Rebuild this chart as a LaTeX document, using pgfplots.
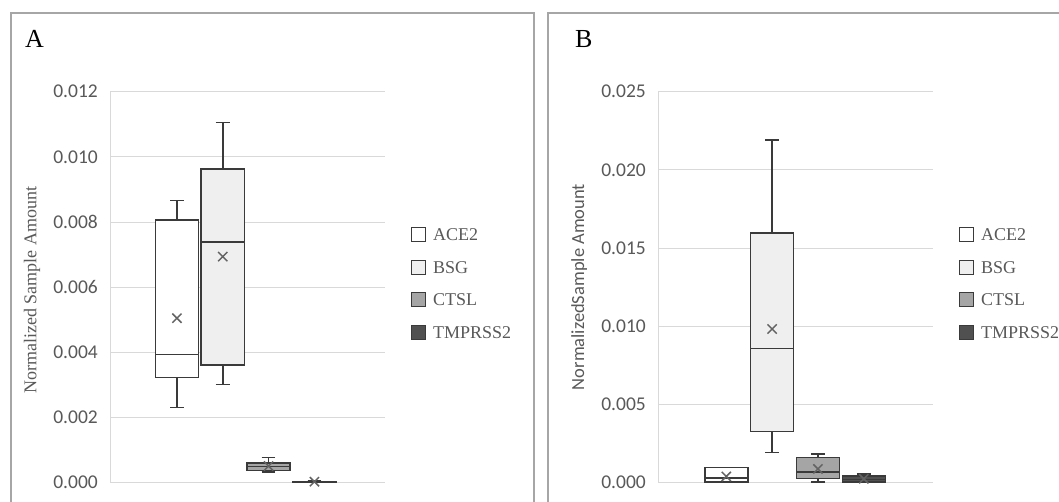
\documentclass[border=0pt]{standalone}
\usepackage{fontspec}
\setmainfont{Liberation Serif}
\newfontfamily\carlito{Carlito}
\usepackage{pgfplots}
\pgfplotsset{compat=1.18}
\usepgfplotslibrary{statistics}
\definecolor{framec}{HTML}{A6A6A6}
\definecolor{gridc}{HTML}{D9D9D9}
\definecolor{txt}{HTML}{595959}
\definecolor{boxline}{HTML}{3A3A3A}
\definecolor{meanc}{HTML}{636363}
\definecolor{cACE}{HTML}{FFFFFF}
\definecolor{cBSG}{HTML}{EFEFEF}
\definecolor{cCTSL}{HTML}{A5A5A5}
\definecolor{cTMP}{HTML}{505050}
% values below are in units of 0.001
\pgfplotsset{
  panel/.style={
    scale only axis, width=275pt, height=391pt,
    ymin=0,
    xtick=\empty,
    boxplot/draw direction=y,
    axis x line*=bottom, axis y line*=left,
    axis line style={gridc, line width=1pt, -},
    ymajorgrids, grid style={gridc, line width=1pt},
    major tick length=0pt,
    yticklabel={\pgfmathparse{\tick/1000}\pgfmathprintnumber[fixed, fixed zerofill, precision=3, assume math mode=true]{\pgfmathresult}},
    yticklabel style={font=\carlito\fontsize{19.5}{22}\selectfont, text=txt, inner sep=0pt, xshift=-12pt},
    legend style={at={(axis description cs:1.0945,0.654)}, anchor=north west, draw=none, fill=none,
      inner sep=0pt, font=\fontsize{18}{20}\selectfont, text=txt, row sep=17.5pt,
      nodes={inner sep=0pt, text height=12pt, text depth=0pt},
      /tikz/every odd column/.append style={column sep=7pt}},
    legend cell align=left,
    legend image code/.code={\draw[##1] (0pt,-7pt) rectangle (14pt,7pt);},
  },
  bx/.style={draw=boxline, line width=1.5pt, solid, forget plot},
  mn/.style={only marks, mark=x, mark size=6.5pt, meanc, line width=1.5pt, forget plot},
}
\begin{document}
\begin{tikzpicture}
\useasboundingbox (0,0) rectangle (1059pt,502pt);
\clip (0,0) rectangle (1059pt,502pt);
\fill[white] (0,0) rectangle (1059pt,502pt);
\draw[framec, line width=2pt] (11pt,-10pt) -- (11pt,489pt) -- (534pt,489pt) -- (534pt,-10pt);
\draw[framec, line width=2pt] (548pt,-10pt) -- (548pt,489pt) -- (1075pt,489pt);
\node[anchor=base west, font=\fontsize{26}{30}\selectfont, inner sep=0pt] at (25pt,454.3pt) {A};
\node[anchor=base west, font=\fontsize{26}{30}\selectfont, inner sep=0pt] at (575pt,454.3pt) {B};

% Panel A
\begin{axis}[panel, at={(110pt,19.3pt)}, anchor=south west,
  xmin=0.04, xmax=6.04, ymax=12,
  ytick={0,2,4,6,8,10,12},
  ylabel={Normalized Sample Amount},
  every axis y label/.style={at={(axis description cs:-0.2836,0.4928)}, rotate=90, anchor=center,
    font=\fontsize{18}{20}\selectfont, text=txt},
]
\addplot[bx, fill=cACE, boxplot prepared={draw position=1.5, lower whisker=2.31, lower quartile=3.23,
  median=3.94, upper quartile=8.06, upper whisker=8.66, box extend=0.94, whisker extend=0.3}] coordinates {};
\addplot[mn] coordinates {(1.5,5.05)};
\addplot[bx, fill=cBSG, boxplot prepared={draw position=2.5, lower whisker=3.02, lower quartile=3.61,
  median=7.38, upper quartile=9.63, upper whisker=11.06, box extend=0.94, whisker extend=0.3}] coordinates {};
\addplot[mn] coordinates {(2.5,6.94)};
\addplot[bx, fill=cCTSL, boxplot prepared={draw position=3.5, lower whisker=0.33, lower quartile=0.37,
  median=0.49, upper quartile=0.61, upper whisker=0.78, box extend=0.94, whisker extend=0.3}] coordinates {};
\addplot[mn] coordinates {(3.5,0.51)};
\addplot[bx, fill=cTMP, boxplot prepared={draw position=4.5, lower whisker=0.0, lower quartile=0.01,
  median=0.02, upper quartile=0.04, upper whisker=0.06, box extend=0.94, whisker extend=0.3}] coordinates {};
\addplot[mn] coordinates {(4.5,0.03)};
\addlegendimage{draw=boxline, line width=1pt, fill=cACE}
\addlegendentry{ACE2}
\addlegendimage{draw=boxline, line width=1pt, fill=cBSG}
\addlegendentry{BSG}
\addlegendimage{draw=boxline, line width=1pt, fill=cCTSL}
\addlegendentry{CTSL}
\addlegendimage{draw=boxline, line width=1pt, fill=cTMP}
\addlegendentry{TMPRSS2}
\end{axis}

% Panel B
\begin{axis}[panel, at={(658pt,19.3pt)}, anchor=south west,
  xmin=0.01, xmax=6.01, ymax=25,
  ytick={0,5,10,15,20,25},
  ylabel={NormalizedSample Amount},
  every axis y label/.style={at={(axis description cs:-0.287,0.5005)}, rotate=90, anchor=center,
    font=\carlito\fontsize{18.5}{20}\selectfont, text=txt},
]
\addplot[bx, fill=cACE, boxplot prepared={draw position=1.5, lower whisker=0.02, lower quartile=0.06,
  median=0.30, upper quartile=0.97, upper whisker=0.98, box extend=0.94, whisker extend=0.3}] coordinates {};
\addplot[mn] coordinates {(1.5,0.40)};
\addplot[bx, fill=cBSG, boxplot prepared={draw position=2.5, lower whisker=1.94, lower quartile=3.26,
  median=8.59, upper quartile=15.95, upper whisker=21.91, box extend=0.94, whisker extend=0.3}] coordinates {};
\addplot[mn] coordinates {(2.5,9.83)};
\addplot[bx, fill=cCTSL, boxplot prepared={draw position=3.5, lower whisker=0.06, lower quartile=0.26,
  median=0.69, upper quartile=1.62, upper whisker=1.83, box extend=0.94, whisker extend=0.3}] coordinates {};
\addplot[mn] coordinates {(3.5,0.88)};
\addplot[bx, fill=cTMP, boxplot prepared={draw position=4.5, lower whisker=0.0, lower quartile=0.04,
  median=0.22, upper quartile=0.43, upper whisker=0.55, box extend=0.94, whisker extend=0.3}] coordinates {};
\addplot[mn] coordinates {(4.5,0.25)};
\addlegendimage{draw=boxline, line width=1pt, fill=cACE}
\addlegendentry{ACE2}
\addlegendimage{draw=boxline, line width=1pt, fill=cBSG}
\addlegendentry{BSG}
\addlegendimage{draw=boxline, line width=1pt, fill=cCTSL}
\addlegendentry{CTSL}
\addlegendimage{draw=boxline, line width=1pt, fill=cTMP}
\addlegendentry{TMPRSS2}
\end{axis}
\end{tikzpicture}
\end{document}
